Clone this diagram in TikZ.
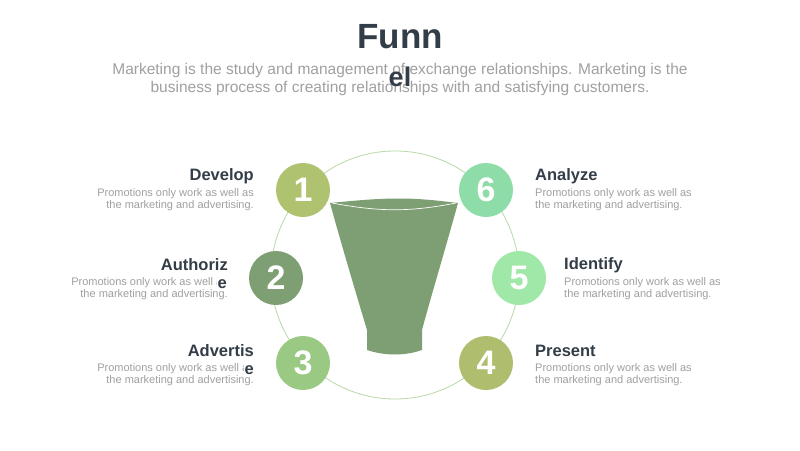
\documentclass[tikz,border=0pt]{standalone}
\usepackage{fontspec}
\setmainfont{Liberation Sans}
\definecolor{dark}{HTML}{333D47}
\definecolor{gr}{HTML}{A0A0A0}
\definecolor{cA}{HTML}{AFC26F}
\definecolor{cB}{HTML}{8EDDA8}
\definecolor{cC}{HTML}{7E9E73}
\definecolor{cD}{HTML}{A0E8A8}
\definecolor{cE}{HTML}{9AC983}
\definecolor{cF}{HTML}{AEBE6E}
\tikzset{
 num/.style={circle,minimum size=54pt,inner sep=0pt,text=white,font=\bfseries\fontsize{34}{34}\selectfont},
 head/.style={font=\bfseries\fontsize{16.5}{16.5}\selectfont,text=dark,inner sep=0pt},
 body/.style={font=\fontsize{11}{12}\selectfont,text=gr,inner sep=0pt,align=right},
 bodyl/.style={font=\fontsize{11}{12}\selectfont,text=gr,inner sep=0pt,align=left},
}
\begin{document}
\begin{tikzpicture}[x=1pt,y=-1pt]
\useasboundingbox[fill=white] (0,0) rectangle (800,450);
\node[font=\bfseries\fontsize{35}{35}\selectfont,text=dark] (t1) at (400,37) {Funn};
\node[text=gr,font=\fontsize{15.5}{18}\selectfont,align=center] (sub) at (400,79) {Marketing is the study and management of exchange relationships. Marketing is the\\business process of creating relationships with and satisfying customers.};
\node[font=\bfseries\fontsize{27}{27}\selectfont,text=dark] (t2) at (400,77) {el};
\draw[cE!70,line width=0.8pt] (395,275) circle (124);
\fill[cC] (330,203) .. controls (390,197) and (410,197) .. (458,203) .. controls (445,250) and (430,300) .. (422,330) -- (422,350) .. controls (405,356) and (385,356) .. (367,350) -- (367,330) .. controls (358,300) and (343,250) .. cycle;
\draw[white,line width=0.7pt] (332,203) .. controls (380,212) and (410,212) .. (456,203);
\node[num,fill=cA] (n1) at (303,190) {1};
\node[num,fill=cB] (n6) at (486,190) {6};
\node[num,fill=cC] (n2) at (276,278) {2};
\node[num,fill=cD] (n5) at (519,278) {5};
\node[num,fill=cE] (n3) at (303,363) {3};
\node[num,fill=cF] (n4) at (486,363) {4};
\node[head,anchor=east] (h1) at (254,176) {Develop};
\node[body,anchor=north east] (b1) at (254,188) {Promotions only work as well as\\the marketing and advertising.};
\node[head,anchor=east] (h2) at (228,265) {Authoriz};
\node[body,anchor=north east] (b2) at (228,277) {Promotions only work as well as\\the marketing and advertising.};
\node[head,anchor=east,fill=white,inner sep=1pt] (e2) at (228,284) {e};
\node[head,anchor=east] (h3) at (254,351) {Advertis};
\node[body,anchor=north east] (b3) at (254,363) {Promotions only work as well as\\the marketing and advertising.};
\node[head,anchor=east,fill=white,inner sep=1pt] (e3) at (255,370) {e};
\node[head,anchor=west] (h6) at (535,176) {Analyze};
\node[bodyl,anchor=north west] (b6) at (535,188) {Promotions only work as well as\\the marketing and advertising.};
\node[head,anchor=west] (h5) at (564,265) {Identify};
\node[bodyl,anchor=north west] (b5) at (564,277) {Promotions only work as well as\\the marketing and advertising.};
\node[head,anchor=west] (h4) at (535,351) {Present};
\node[bodyl,anchor=north west] (b4) at (535,363) {Promotions only work as well as\\the marketing and advertising.};
\end{tikzpicture}
\end{document}
